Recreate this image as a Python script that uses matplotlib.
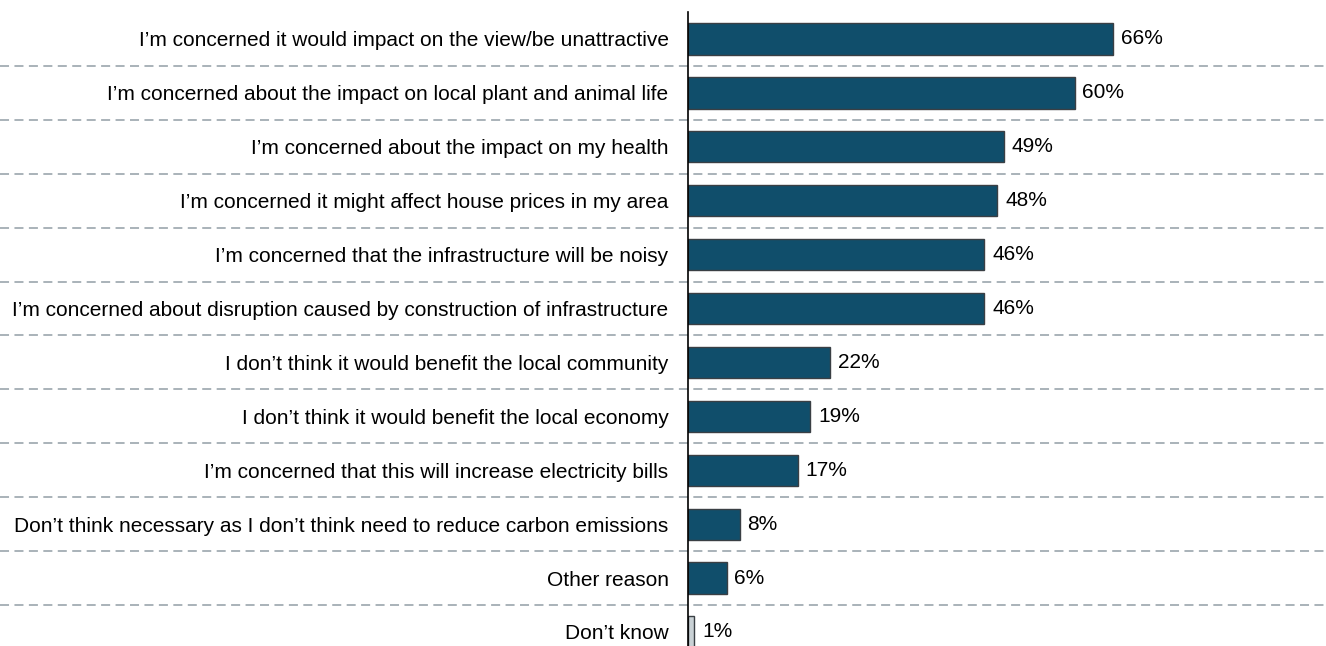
import matplotlib.pyplot as plt

plt.rcParams['font.family'] = ['Liberation Sans', 'DejaVu Sans']

labels = [
    "I\u2019m concerned it would impact on the view/be unattractive",
    "I\u2019m concerned about the impact on local plant and animal life",
    "I\u2019m concerned about the impact on my health",
    "I\u2019m concerned it might affect house prices in my area",
    "I\u2019m concerned that the infrastructure will be noisy",
    "I\u2019m concerned about disruption caused by construction of infrastructure",
    "I don\u2019t think it would benefit the local community",
    "I don\u2019t think it would benefit the local economy",
    "I\u2019m concerned that this will increase electricity bills",
    "Don\u2019t think necessary as I don\u2019t think need to reduce carbon emissions",
    "Other reason",
    "Don\u2019t know",
]
values = [66, 60, 49, 48, 46, 46, 22, 19, 17, 8, 6, 1]
colors = ['#104E6B'] * 11 + ['#C9D1D5']

fig = plt.figure(figsize=(13.26, 6.46), dpi=100)
left = 688 / 1326
ax = fig.add_axes([left, 0, 1 - left, (646 - 12) / 646])

y = list(range(len(values)))
ax.barh(y, values, height=0.58, color=colors, edgecolor='#3A3F44', linewidth=1)
for yi, v in zip(y, values):
    ax.text(v + 1.2, yi, f"{v}%", va='center', ha='left', fontsize=15)

ax.set_xlim(0, 99)
ax.set_ylim(11.26, -0.5)
ax.set_yticks(y)
ax.set_yticklabels(labels, fontsize=15)
ax.tick_params(axis='y', length=0, pad=14)
ax.set_xticks([])
for s in ['top', 'right', 'bottom']:
    ax.spines[s].set_visible(False)
ax.spines['left'].set_color('black')
ax.spines['left'].set_linewidth(1.2)

xmin = -left / (1 - left)
for yi in y[:-1]:
    ax.axhline(yi + 0.5, xmin=xmin, xmax=1, color='#A3ADB3', lw=1.3,
               ls=(0, (5, 3)), clip_on=False, zorder=0)

fig.savefig('out.png', dpi=100)
